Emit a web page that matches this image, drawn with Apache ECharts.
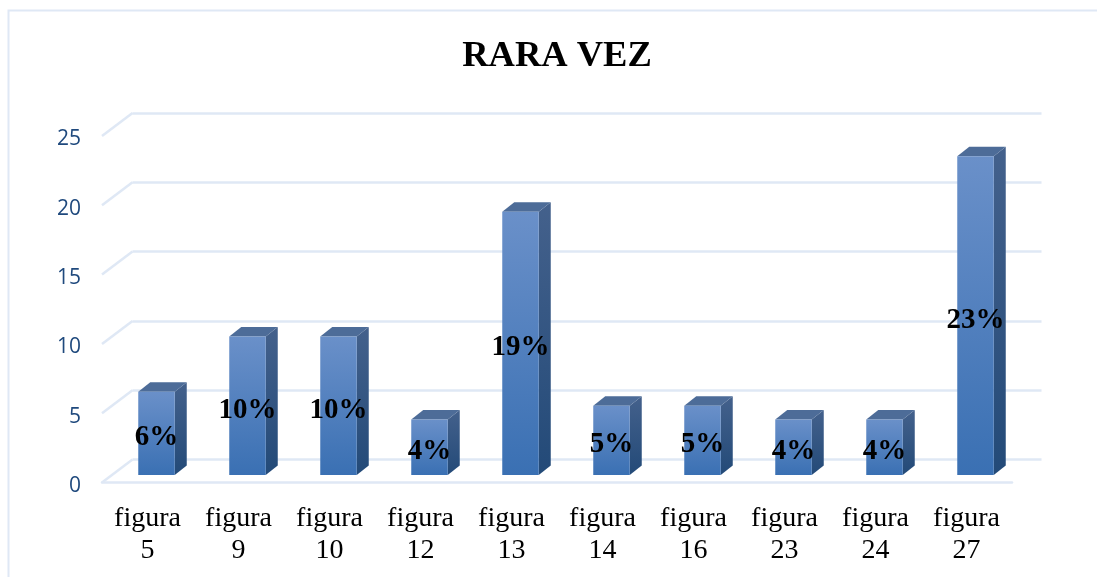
<!DOCTYPE html>
<html>
<head>
<meta charset="utf-8">
<style>html,body{margin:0;padding:0;background:#fff}#c{width:1097px;height:577px}</style>
<script src="https://cdn.jsdelivr.net/npm/echarts@6/dist/echarts.min.js"></script>
</head>
<body>
<div id="c"></div>
<script>
const categories = ['figura\n5','figura\n9','figura\n10','figura\n12','figura\n13','figura\n14','figura\n16','figura\n23','figura\n24','figura\n27'];
const values = [6,10,10,4,19,5,5,4,4,23];
const tickValues = [0,5,10,15,20,25];
const titleText = 'RARA VEZ';

const SERIF = '"Liberation Serif","Times New Roman",serif';
const GRID = '#dfe8f5';
const BAR_W = 36.5, SHIFT_X = 9, SHIFT_Y = -7.5, DEPTH_X = 12, DEPTH_Y = -9.5, WALL_X = 30.5, WALL_Y = -23;
const grad = (a, b) => ({type:'linear', x:0, y:0, x2:0, y2:1, colorStops:[{offset:0,color:a},{offset:1,color:b}]});

const chart = echarts.init(document.getElementById('c'), null, {renderer:'canvas'});
chart.setOption({
  animation:false,
  backgroundColor:'#fff',
  title:{text:titleText, left:552, top:33, textAlign:'center',
    textStyle:{fontFamily:SERIF, fontWeight:'bold', fontSize:36.5, color:'#000'}},
  graphic:[{type:'polyline', z:0, shape:{points:[[8.5,577],[8.5,10.5],[1097,10.5]]},
    style:{stroke:GRID, lineWidth:2, fill:null}}],
  grid:[
    {left:102, width:910, top:136, height:346.5},
    {left:132.5, width:909, top:113, height:346.5},
    {left:102, width:910, top:139.5, height:346.5}
  ],
  xAxis:[
    {type:'category', gridIndex:0, data:categories, boundaryGap:true,
     axisLine:{show:true, lineStyle:{color:GRID, width:2.5}}, axisTick:{show:false},
     axisLabel:{interval:0, margin:20, fontFamily:SERIF, fontSize:28, lineHeight:32, color:'#000'}},
    {type:'category', gridIndex:1, data:categories, show:false},
    {type:'category', gridIndex:2, data:categories, show:false}
  ],
  yAxis:[
    {type:'value', gridIndex:0, min:0, max:25, interval:5, show:false},
    {type:'value', gridIndex:1, min:0, max:25, interval:5,
     axisLine:{show:false}, axisTick:{show:false}, axisLabel:{show:false},
     splitLine:{show:true, lineStyle:{color:GRID, width:2.5}}},
    {type:'value', gridIndex:2, min:0, max:25, interval:5,
     axisLine:{show:false}, axisTick:{show:false}, splitLine:{show:false},
     axisLabel:{margin:21, fontFamily:'"Open Sans","Noto Sans",sans-serif', fontSize:21, color:'#1f497d'}}
  ],
  series:[
    {type:'custom', xAxisIndex:0, yAxisIndex:0, z:2, silent:true, clip:false,
     data:tickValues.map(v=>[0,v]),
     encode:{x:0,y:1},
     renderItem(params, api){
       const x0 = params.coordSys.x, y = api.coord([0, api.value(1)])[1];
       return {type:'line', shape:{x1:x0,y1:y,x2:x0+WALL_X,y2:y+WALL_Y},
         style:{stroke:GRID, lineWidth:2.5}};
     }},
    {type:'custom', xAxisIndex:0, yAxisIndex:0, z:3, silent:true, clip:false,
     data:values.map((v,i)=>[i,v]),
     encode:{x:0,y:1},
     renderItem(params, api){
       const v = api.value(1);
       const top = api.coord([api.value(0), v]);
       const base = api.coord([api.value(0), 0]);
       const xl = top[0] + SHIFT_X - BAR_W/2, xr = xl + BAR_W;
       const yt = top[1] + SHIFT_Y, yb = base[1] + SHIFT_Y;
       return {type:'group', children:[
         {type:'polygon', shape:{points:[[xr,yt],[xr+DEPTH_X,yt+DEPTH_Y],[xr+DEPTH_X,yb+DEPTH_Y],[xr,yb]]},
          style:{fill:grad('#44618c','#234a78')}},
         {type:'polygon', shape:{points:[[xl,yt],[xl+DEPTH_X,yt+DEPTH_Y],[xr+DEPTH_X,yt+DEPTH_Y],[xr,yt]]},
          style:{fill:'#4d6c98'}},
         {type:'rect', shape:{x:xl,y:yt,width:BAR_W,height:yb-yt},
          style:{fill:grad('#6a90c9','#3a70b3')}},
         {type:'text', z2:10, style:{x:(xl+xr)/2, y:(yt+yb)/2+4.5, text:v+'%',
           align:'center', verticalAlign:'middle', fill:'#000',
           font:'bold 29px '+SERIF}}
       ]};
     }}
  ]
});
</script>
</body>
</html>
